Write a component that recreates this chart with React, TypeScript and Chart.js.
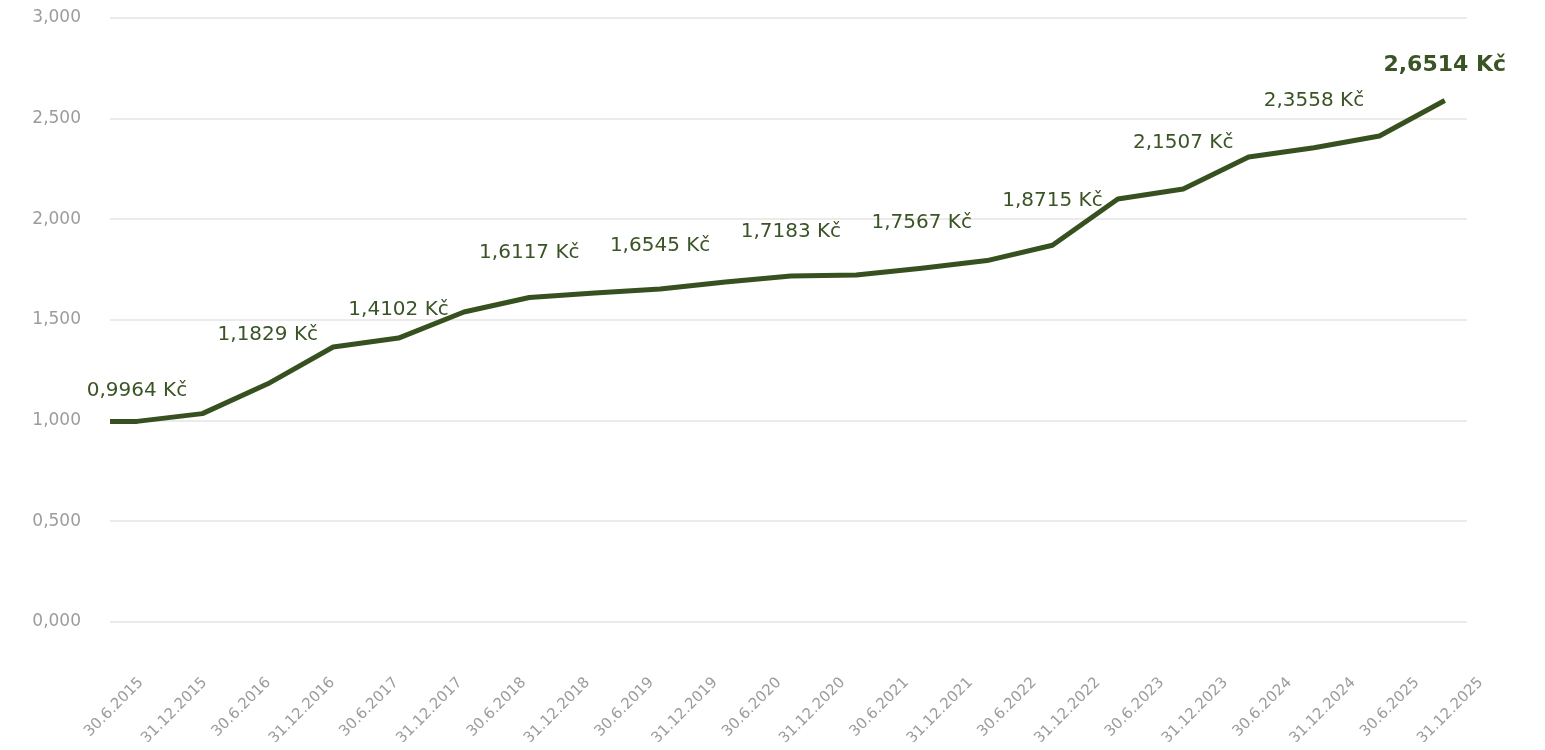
import React, { useEffect, useRef } from 'react';
import { Chart, registerables } from 'chart.js';

Chart.register(...registerables);

// x-axis category labels (half-year dates)
const DATES = [
  '30.6.2015', '31.12.2015', '30.6.2016', '31.12.2016', '30.6.2017', '31.12.2017',
  '30.6.2018', '31.12.2018', '30.6.2019', '31.12.2019', '30.6.2020', '31.12.2020',
  '30.6.2021', '31.12.2021', '30.6.2022', '31.12.2022', '30.6.2023', '31.12.2023',
  '30.6.2024', '31.12.2024', '30.6.2025', '31.12.2025',
];

// unit price series (Kč)
const PRICES = [
  0.9964, 0.9964, 1.035, 1.1829, 1.366, 1.4102, 1.54, 1.6117, 1.634, 1.6545, 1.689,
  1.7183, 1.724, 1.7567, 1.795, 1.8715, 2.101, 2.1507, 2.31, 2.3558, 2.414, 2.59,
];

// y-axis tick labels
const Y_TICK_LABELS = ['0,000', '0,500', '1,000', '1,500', '2,000', '2,500', '3,000'];

// points that carry a value label, and the values printed there
const LABELLED_INDEX = [1, 3, 5, 7, 9, 11, 13, 15, 17, 19, 21];
const LABELLED_VALUES = [
  0.9964, 1.1829, 1.4102, 1.6117, 1.6545, 1.7183, 1.7567, 1.8715, 2.1507, 2.3558, 2.6514,
];

// styling
const LINE_COLOR = '#36511f';
const TEXT_COLOR = '#3a5426';
const AXIS_TEXT = '#9c9c9c';
const GRID_COLOR = '#ebebeb';
const FONT = '"DejaVu Sans", sans-serif';
const LABEL_LIFT = [31, 49, 28, 45, 43, 44, 46, 44, 46, 47, 35];

export default function App() {
  const ref = useRef<HTMLCanvasElement>(null);

  useEffect(() => {
    if (!ref.current) return;
    const valueLabels = {
      id: 'valueLabels',
      afterDatasetsDraw(chart: any) {
        const meta = chart.getDatasetMeta(0);
        const ctx = chart.ctx;
        ctx.save();
        ctx.textAlign = 'center';
        ctx.textBaseline = 'middle';
        ctx.fillStyle = TEXT_COLOR;
        LABELLED_INDEX.forEach((idx, k) => {
          const pt = meta.data[idx];
          if (!pt) return;
          const last = k === LABELLED_INDEX.length - 1;
          ctx.font = `${last ? 'bold 22px' : '20px'} ${FONT}`;
          const text = LABELLED_VALUES[k].toFixed(4).replace('.', ',') + ' Kč';
          ctx.fillText(text, pt.x, pt.y - LABEL_LIFT[k]);
        });
        ctx.restore();
      },
    };

    const chart = new Chart(ref.current, {
      type: 'line',
      data: {
        datasets: [
          {
            data: PRICES.map((v, i) => ({ x: i, y: v })),
            xAxisID: 'xl',
            yAxisID: 'y',
            borderColor: LINE_COLOR,
            borderWidth: 5,
            pointRadius: 0,
            pointHoverRadius: 0,
            tension: 0,
            fill: false,
            borderJoinStyle: 'round',
          },
        ],
      },
      options: {
        animation: false,
        responsive: false,
        events: [],
        layout: { padding: { top: 10, right: 70, left: 0, bottom: 0 } },
        plugins: { legend: { display: false }, tooltip: { enabled: false } },
        scales: {
          x: {
            type: 'linear',
            position: 'bottom',
            min: 0,
            max: 21.27,
            grid: { display: false, drawTicks: false },
            border: { display: false },
            ticks: {
              stepSize: 1,
              maxTicksLimit: 40,
              includeBounds: false,
              autoSkip: false,
              maxRotation: 45,
              minRotation: 45,
              padding: 52,
              labelOffset: 31,
              color: AXIS_TEXT,
              font: { family: FONT, size: 15 },
              callback: (v: any) => DATES[v as number] ?? '',
            },
            afterFit: (s: any) => {
              s.height = 120;
              s.paddingLeft = 0;
              s.paddingRight = 0;
            },
          },
          xl: {
            type: 'linear',
            position: 'bottom',
            display: false,
            min: 0.587,
            max: 21.34,
          },
          y: {
            min: 0,
            max: 3,
            grid: { color: GRID_COLOR, lineWidth: 2, drawTicks: false },
            border: { display: false },
            ticks: {
              stepSize: 0.5,
              padding: 29,
              color: AXIS_TEXT,
              font: { family: FONT, size: 17 },
              callback: (_v: any, i: number) => Y_TICK_LABELS[i],
            },
            afterFit: (s: any) => {
              s.width = 102;
              s.paddingTop = 0;
              s.paddingBottom = 0;
            },
          },
        },
      },
      plugins: [valueLabels],
    } as any);

    return () => chart.destroy();
  }, []);

  return <canvas ref={ref} width={1529} height={734} style={{ display: 'block' }} />;
}
